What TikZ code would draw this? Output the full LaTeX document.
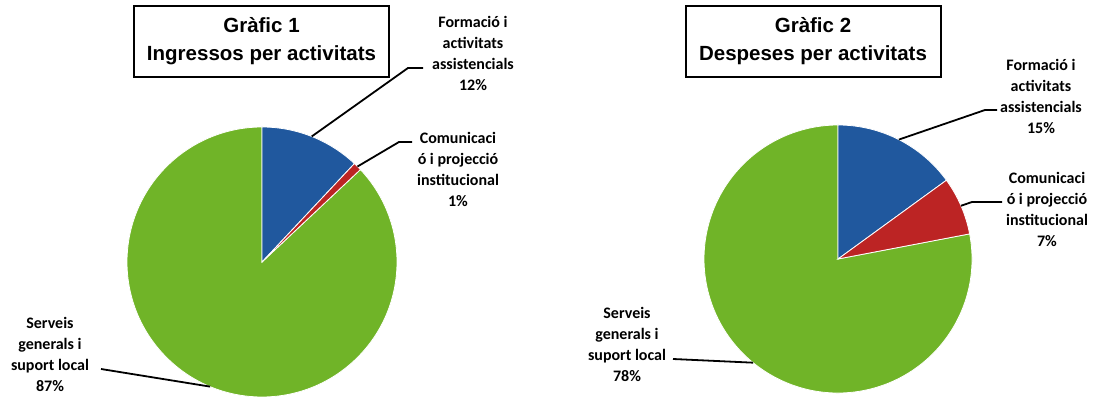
\documentclass[tikz,border=0pt]{standalone}
\usepackage{fontspec}
\setmainfont{Liberation Sans}
\newfontfamily\lblfont{Carlito}
\usepackage{tikz}
\usetikzlibrary{positioning}
\definecolor{bluclr}{RGB}{32,88,158}
\definecolor{redclr}{RGB}{188,36,36}
\definecolor{grnclr}{RGB}{112,180,40}
\tikzset{ %
  ,title/.style={draw, line width=2pt, minimum width=255pt, minimum height=71pt, align=center, font=\fontsize{20.5}{28}\selectfont\bfseries}
  ,lbl/.style={align=center, inner sep=0, font=\lblfont\fontsize{16}{21}\selectfont\bfseries}
  ,leader/.style={line width=1.8pt}
  ,slice/.style={draw=white, line width=0.8pt}
}

\begin{document}
\begin{tikzpicture}[x=1pt,y=1pt]
      \useasboundingbox (0,0) rectangle (1094,403);
      % Grafic 1
      \coordinate (c1) at (262,141);
      \filldraw[slice, fill=grnclr] (c1) -- ++(43.2:135) arc[start angle=43.2, end angle=-270, radius=135] -- cycle;
      \filldraw[slice, fill=bluclr] (c1) -- ++(90:135) arc[start angle=90, end angle=46.8, radius=135] -- cycle;
      \filldraw[slice, fill=redclr] (c1) -- ++(46.8:135) arc[start angle=46.8, end angle=43.2, radius=135] -- cycle;
      \path (c1) ++(68.4:135) coordinate (e1a);
      \path (c1) ++(45:135) coordinate (e1b);
      \path (c1) ++(247.4:135) coordinate (e1c);
      \draw 
      node[title] (t1) at (261.5,361.5) {Gràfic 1\\Ingressos per activitats}
      node[lbl] (l1a) at (473,350) {Formació i\\activitats\\assistencials\\12\%}
      node[lbl] (l1b) at (458,234) {Comunicaci\\ó i projecció\\institucional\\1\%}
      node[lbl] (l1c) at (50,49) {Serveis\\generals i\\suport local\\87\%};
      \coordinate (k1a) at (408,335);
      \coordinate (h1a) at (423,335);
      \coordinate (k1b) at (399,261);
      \coordinate (h1b) at (412,261);
      \coordinate (k1c) at (101,34);
      \draw[leader] (e1a) -- (k1a) -- (h1a);
      \draw[leader] (e1b) -- (k1b) -- (h1b);
      \draw[leader] (k1c) -- (e1c);
      % Grafic 2
      \coordinate (c2) at (838,144);
      \filldraw[slice, fill=grnclr] (c2) -- ++(10.8:134) arc[start angle=10.8, end angle=-270, radius=134] -- cycle;
      \filldraw[slice, fill=bluclr] (c2) -- ++(90:134) arc[start angle=90, end angle=36, radius=134] -- cycle;
      \filldraw[slice, fill=redclr] (c2) -- ++(36:134) arc[start angle=36, end angle=10.8, radius=134] -- cycle;
      \path (c2) ++(63:134) coordinate (e2a);
      \path (c2) ++(23.4:134) coordinate (e2b);
      \path (c2) ++(230.7:134) coordinate (e2c);
      \draw 
      node[title] (t2) at (813,361.5) {Gràfic 2\\Despeses per activitats}
      node[lbl] (l2a) at (1041,306.5) {Formació i\\activitats\\assistencials\\15\%}
      node[lbl] (l2b) at (1047,193.5) {Comunicaci\\ó i projecció\\institucional\\7\%}
      node[lbl] (l2c) at (627,58.5) {Serveis\\generals i\\suport local\\78\%};
      \coordinate (k2a) at (985,293);
      \coordinate (h2a) at (997,293);
      \coordinate (k2b) at (972,201);
      \coordinate (h2b) at (1002,201);
      \coordinate (k2c) at (673,44);
      \draw[leader] (e2a) -- (k2a) -- (h2a);
      \draw[leader] (e2b) -- (k2b) -- (h2b);
      \draw[leader] (k2c) -- (e2c);
    \end{tikzpicture}
\end{document}
